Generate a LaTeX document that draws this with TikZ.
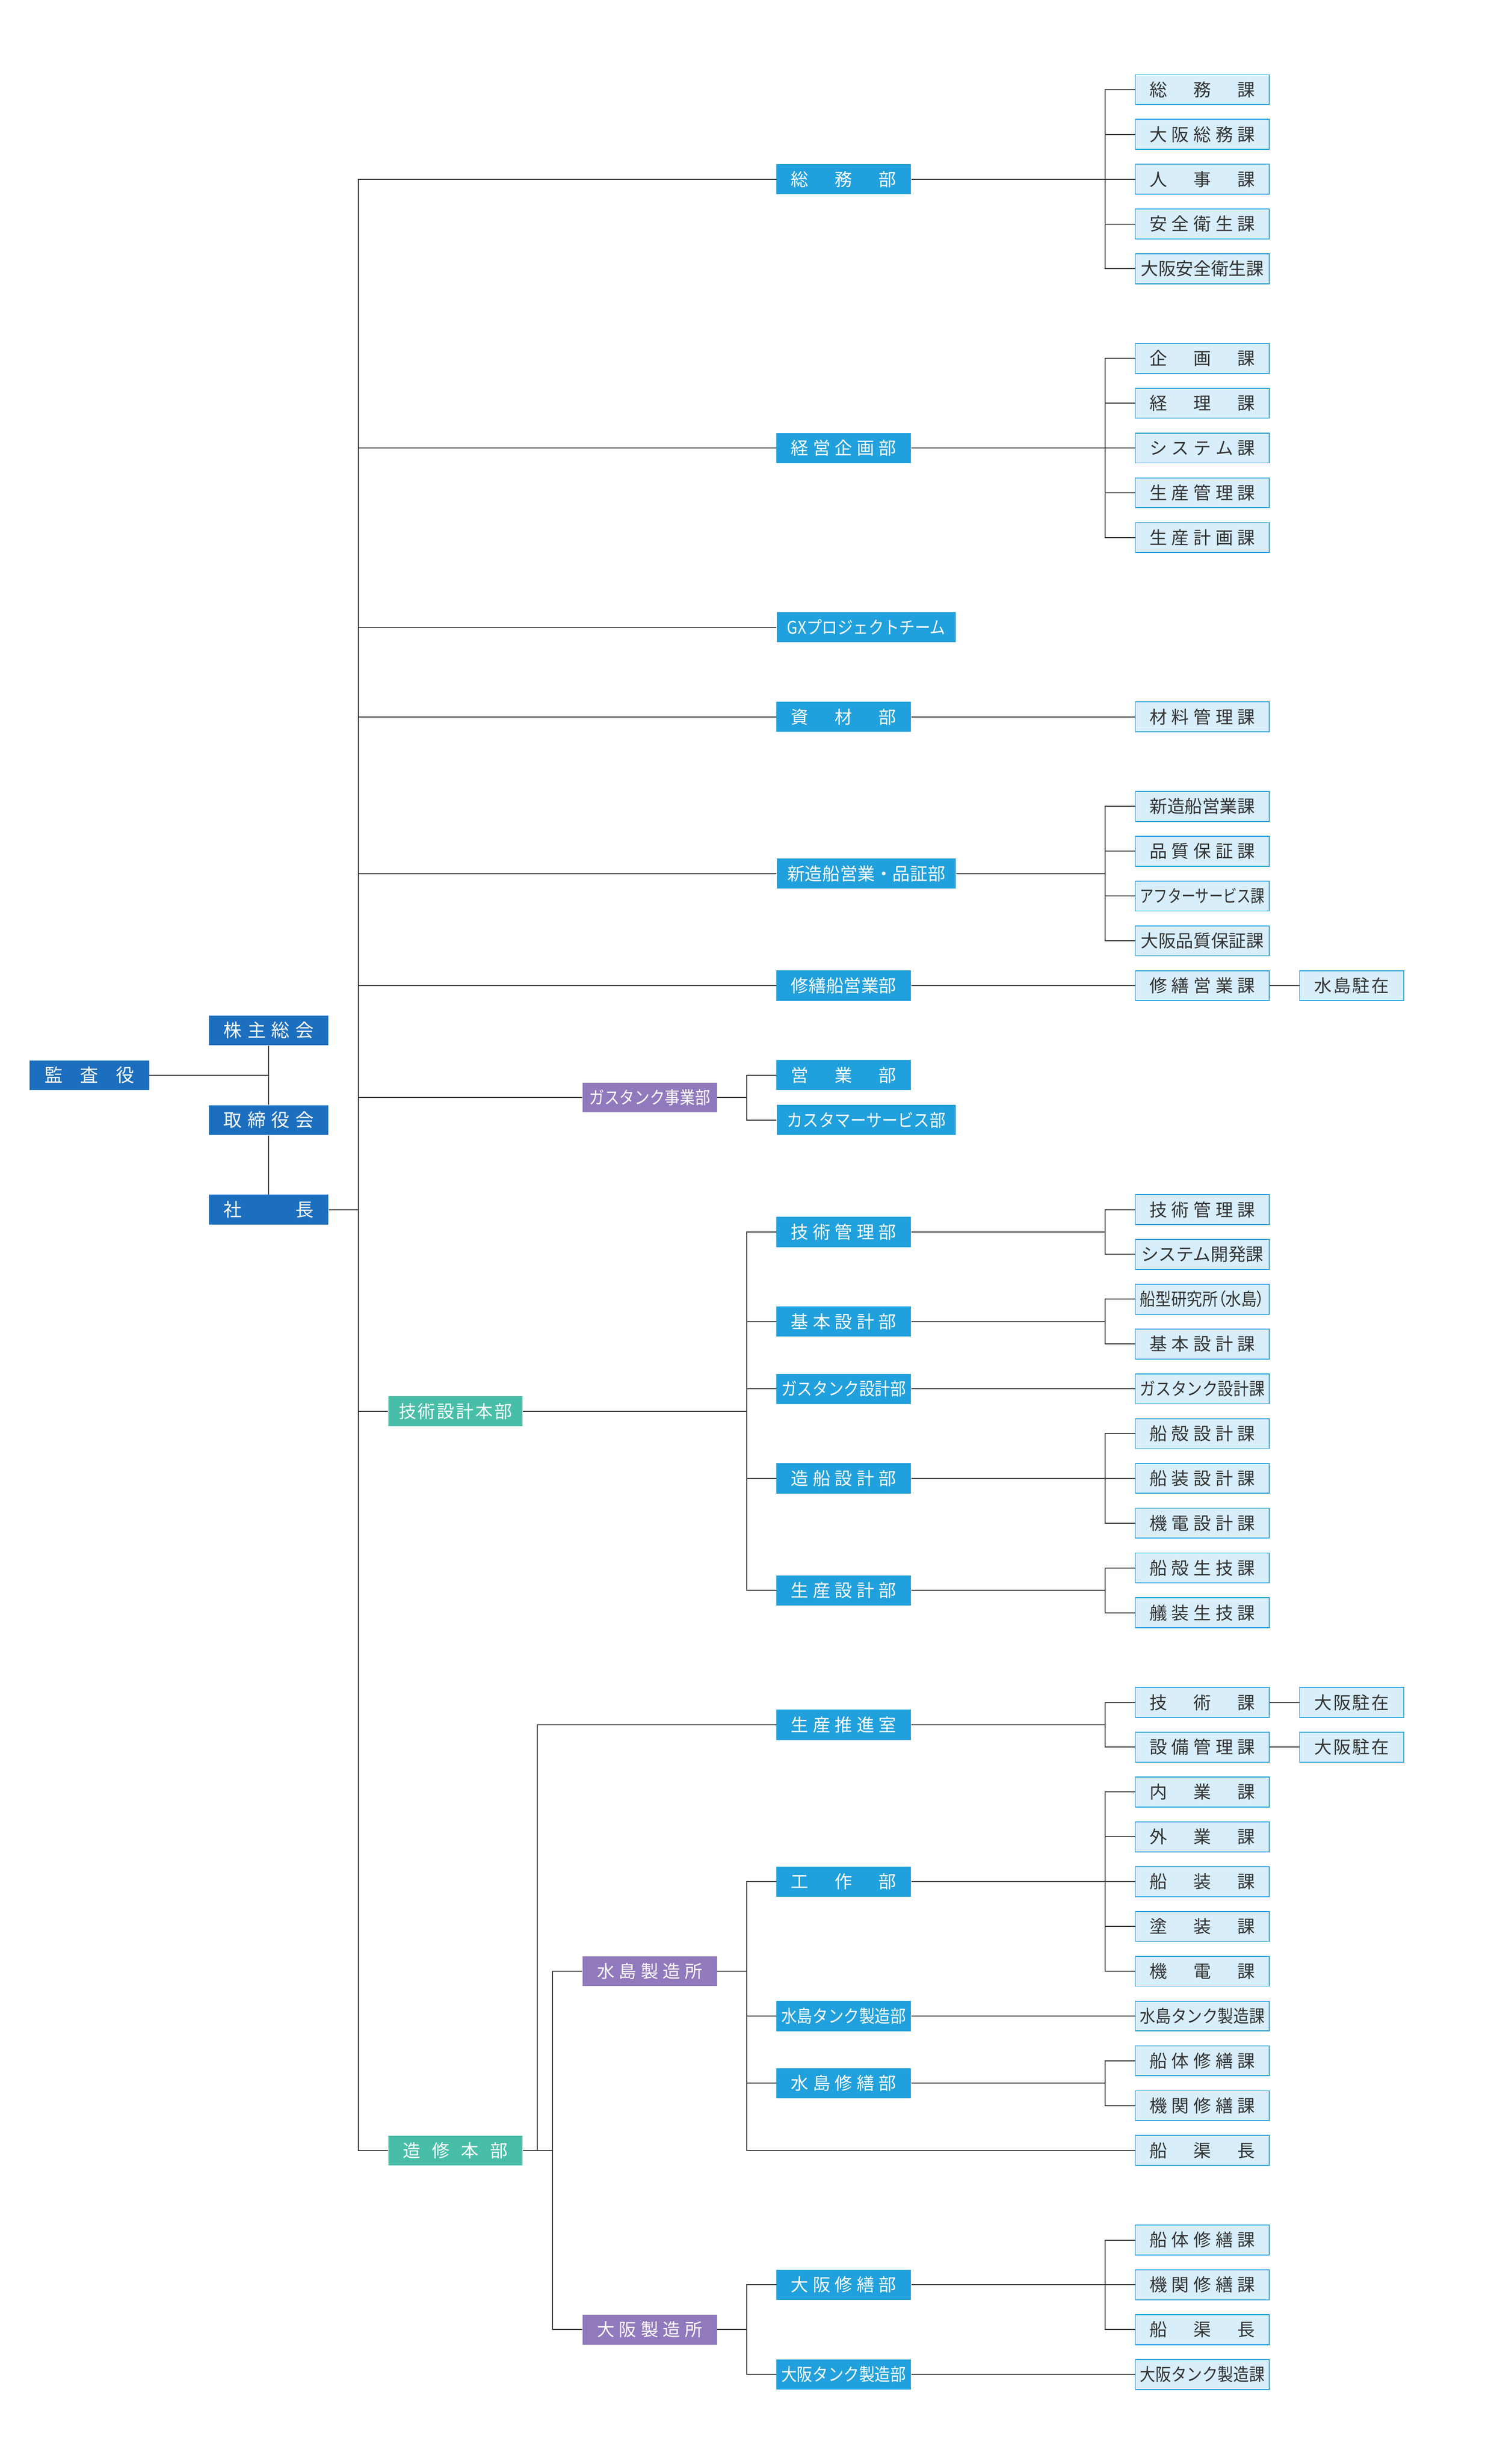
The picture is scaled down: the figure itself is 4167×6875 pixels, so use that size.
\documentclass[tikz,border=0pt]{standalone}
\usepackage{fontspec}
\usepackage{graphicx}
\newfontfamily\jp{Noto Sans CJK JP}
\definecolor{cTop}{HTML}{1C6FBE}
\definecolor{cBu}{HTML}{20A0DC}
\definecolor{cKaF}{HTML}{D8EEFB}
\definecolor{cPur}{HTML}{9179BD}
\definecolor{cGrn}{HTML}{48BEA8}
\definecolor{cLine}{HTML}{383838}
\definecolor{cTx}{HTML}{333333}
\def\SW{58.8pt}\def\MW{69.6pt}
\ExplSyntaxOn
\NewDocumentCommand \spreadto { m m }
  { \makebox[#1][s]{ \tl_map_inline:nn {#2} { ##1 \hfill } \unskip } }
\NewDocumentCommand \lab { m }
  {
    \hbox_set:Nn \l_tmpa_box {#1}
    \dim_compare:nNnTF { \box_wd:N \l_tmpa_box } < { \SW - 1pt }
      { \spreadto{\SW}{#1} }
      {
        \dim_compare:nNnTF { \box_wd:N \l_tmpa_box } > { \MW }
          { \resizebox{\MW}{\height}{#1} }
          { \box_use:N \l_tmpa_box }
      }
  }
\ExplSyntaxOff
\tikzset{
  bxBase/.style={rectangle, inner sep=0pt, text height=8.2pt, text depth=0.8pt,
    font=\jp\fontsize{9.8pt}{11pt}\selectfont},
  bxTop/.style={bxBase, fill=cTop, text=white, minimum width=66.6pt, minimum height=16.6pt,
    font=\jp\fontsize{10.2pt}{11pt}\selectfont,
    execute at begin node={\def\SW{50.2pt}\def\MW{60pt}}},
  bxBu/.style={bxBase, fill=cBu, text=white, minimum width=75pt, minimum height=16.8pt,
    execute at begin node={\def\SW{58.8pt}\def\MW{69.6pt}}},
  bxWide/.style={bxBase, fill=cBu, text=white, minimum width=100pt, minimum height=16.8pt,
    execute at begin node={\def\SW{58.8pt}\def\MW{88.4pt}}},
  bxPur/.style={bxBase, fill=cPur, text=white, minimum width=75pt, minimum height=16.6pt,
    execute at begin node={\def\SW{58.8pt}\def\MW{67.6pt}}},
  bxGrn/.style={bxBase, fill=cGrn, text=white, minimum width=75pt, minimum height=16.6pt,
    execute at begin node={\def\SW{58.6pt}\def\MW{69.6pt}}},
  bxKa/.style={bxBase, fill=cKaF, draw=cBu, line width=0.5pt, text=cTx,
    minimum width=74.7pt, minimum height=16.7pt,
    execute at begin node={\def\SW{58.8pt}\def\MW{69.6pt}}},
  bxChu/.style={bxKa, minimum width=58.1pt,
    execute at begin node={\def\SW{41.6pt}\def\MW{52pt}}},
  conn/.style={draw=cLine, line width=0.55pt}
}
\newcommand\brk[3]{\foreach \c in {#3} {\draw[conn] (#1.east) -- (#1.east -| #2) |- (\c.west);}}
\begin{document}
\begin{tikzpicture}[x=0.2pt,y=-0.2pt]
\useasboundingbox (0,0) rectangle (4167,6875);
% bracket x positions
\coordinate (Tx) at (1000,0);
\coordinate (X1) at (1499,0);
\coordinate (X2) at (1541,0);
\coordinate (Bx) at (2083,0);
\coordinate (Kx) at (3083,0);
% top management
\node[bxTop] (kansa)  at (249.5,3000) {\lab{監査役}};
\node[bxTop] (kabu)   at (749.5,2875) {\lab{株主総会}};
\node[bxTop] (tori)   at (749.5,3125) {\lab{取締役会}};
\node[bxTop] (shacho) at (749.5,3375) {\lab{社長}};
% second level
\node[bxPur] (gastank) at (1812.5,3062.5) {\lab{ガスタンク事業部}};
\node[bxGrn, execute at begin node={\def\SW{63.2pt}}] (gijutsu) at (1270.5,3937.5) {\lab{技術設計本部}};
\node[bxGrn] (zoshu) at (1270.5,6000) {\lab{造修本部}};
\node[bxPur] (mizuf)  at (1812.5,5500) {\lab{水島製造所}};
\node[bxPur] (osakaf) at (1812.5,6500) {\lab{大阪製造所}};
% departments
\node[bxBu]   (somubu)  at (2353.5,500)    {\lab{総務部}};
\node[bxBu]   (keiei)   at (2353.5,1250)   {\lab{経営企画部}};
\node[bxWide] (gx)      at (2416.5,1750)   {\lab{GXプロジェクトチーム}};
\node[bxBu]   (shizai)  at (2353.5,2000)   {\lab{資材部}};
\node[bxWide] (shinzo)  at (2416.5,2437.5) {\lab{新造船営業・品証部}};
\node[bxBu]   (shuzen)  at (2353.5,2750)   {\lab{修繕船営業部}};
\node[bxBu]   (eigyo)   at (2353.5,3000)   {\lab{営業部}};
\node[bxWide] (cs)      at (2416.5,3125)   {\lab{カスタマーサービス部}};
\node[bxBu]   (gkanri)  at (2353.5,3437.5) {\lab{技術管理部}};
\node[bxBu]   (kihon)   at (2353.5,3687.5) {\lab{基本設計部}};
\node[bxBu]   (gasd)    at (2353.5,3875)   {\lab{ガスタンク設計部}};
\node[bxBu]   (zosen)   at (2353.5,4125)   {\lab{造船設計部}};
\node[bxBu]   (seisand) at (2353.5,4437.5) {\lab{生産設計部}};
\node[bxBu]   (suishin) at (2353.5,4812.5) {\lab{生産推進室}};
\node[bxBu]   (kosaku)  at (2353.5,5250)   {\lab{工作部}};
\node[bxBu]   (mtank)   at (2353.5,5625)   {\lab{水島タンク製造部}};
\node[bxBu]   (mshuzen) at (2353.5,5812.5) {\lab{水島修繕部}};
\node[bxBu]   (oshuzen) at (2353.5,6375)   {\lab{大阪修繕部}};
\node[bxBu]   (otank)   at (2353.5,6625)   {\lab{大阪タンク製造部}};
% sections
\node[bxKa] (a0)   at (3354,250)  {\lab{総務課}};
\node[bxKa] (a2)   at (3354,375)  {\lab{大阪総務課}};
\node[bxKa] (a4)   at (3354,500)  {\lab{人事課}};
\node[bxKa] (a6)   at (3354,625)  {\lab{安全衛生課}};
\node[bxKa] (a8)   at (3354,750)  {\lab{大阪安全衛生課}};
\node[bxKa] (a12)  at (3354,1000) {\lab{企画課}};
\node[bxKa] (a14)  at (3354,1125) {\lab{経理課}};
\node[bxKa] (a16)  at (3354,1250) {\lab{システム課}};
\node[bxKa] (a18)  at (3354,1375) {\lab{生産管理課}};
\node[bxKa] (a20)  at (3354,1500) {\lab{生産計画課}};
\node[bxKa] (a28)  at (3354,2000) {\lab{材料管理課}};
\node[bxKa] (a32)  at (3354,2250) {\lab{新造船営業課}};
\node[bxKa] (a34)  at (3354,2375) {\lab{品質保証課}};
\node[bxKa] (a36)  at (3354,2500) {\lab{アフターサービス課}};
\node[bxKa] (a38)  at (3354,2625) {\lab{大阪品質保証課}};
\node[bxKa] (a40)  at (3354,2750) {\lab{修繕営業課}};
\node[bxChu] (c40) at (3770.5,2750) {\lab{水島駐在}};
\node[bxKa] (a50)  at (3354,3375) {\lab{技術管理課}};
\node[bxKa] (a52)  at (3354,3500) {\lab{システム開発課}};
\node[bxKa] (a54)  at (3354,3625) {\lab{\addfontfeature{RawFeature=+palt}船型研究所（水島）}};
\node[bxKa] (a56)  at (3354,3750) {\lab{基本設計課}};
\node[bxKa] (a58)  at (3354,3875) {\lab{ガスタンク設計課}};
\node[bxKa] (a60)  at (3354,4000) {\lab{船殻設計課}};
\node[bxKa] (a62)  at (3354,4125) {\lab{船装設計課}};
\node[bxKa] (a64)  at (3354,4250) {\lab{機電設計課}};
\node[bxKa] (a66)  at (3354,4375) {\lab{船殻生技課}};
\node[bxKa] (a68)  at (3354,4500) {\lab{艤装生技課}};
\node[bxKa] (a72)  at (3354,4750) {\lab{技術課}};
\node[bxChu] (c72) at (3770.5,4750) {\lab{大阪駐在}};
\node[bxKa] (a74)  at (3354,4875) {\lab{設備管理課}};
\node[bxChu] (c74) at (3770.5,4875) {\lab{大阪駐在}};
\node[bxKa] (a76)  at (3354,5000) {\lab{内業課}};
\node[bxKa] (a78)  at (3354,5125) {\lab{外業課}};
\node[bxKa] (a80)  at (3354,5250) {\lab{船装課}};
\node[bxKa] (a82)  at (3354,5375) {\lab{塗装課}};
\node[bxKa] (a84)  at (3354,5500) {\lab{機電課}};
\node[bxKa] (a86)  at (3354,5625) {\lab{水島タンク製造課}};
\node[bxKa] (a88)  at (3354,5750) {\lab{船体修繕課}};
\node[bxKa] (a90)  at (3354,5875) {\lab{機関修繕課}};
\node[bxKa] (a92)  at (3354,6000) {\lab{船渠長}};
\node[bxKa] (a96)  at (3354,6250) {\lab{船体修繕課}};
\node[bxKa] (a98)  at (3354,6375) {\lab{機関修繕課}};
\node[bxKa] (a100) at (3354,6500) {\lab{船渠長}};
\node[bxKa] (a102) at (3354,6625) {\lab{大阪タンク製造課}};
% connectors: top management
\draw[conn] (kabu.south) -- (tori.north);
\draw[conn] (tori.south) -- (shacho.north);
\draw[conn] (kansa.east) -- (kansa.east -| kabu.south);
\brk{shacho}{Tx}{somubu,keiei,gx,shizai,shinzo,shuzen,gastank,gijutsu,zoshu}
% second level
\brk{gastank}{Bx}{eigyo,cs}
\brk{gijutsu}{Bx}{gkanri,kihon,gasd,zosen,seisand}
\brk{zoshu}{X1}{suishin}
\brk{zoshu}{X2}{mizuf,osakaf}
\brk{mizuf}{Bx}{kosaku,mtank,mshuzen,a92}
\brk{osakaf}{Bx}{oshuzen,otank}
% departments to sections
\brk{somubu}{Kx}{a0,a2,a4,a6,a8}
\brk{keiei}{Kx}{a12,a14,a16,a18,a20}
\brk{shizai}{Kx}{a28}
\brk{shinzo}{Kx}{a32,a34,a36,a38}
\brk{shuzen}{Kx}{a40}
\brk{gkanri}{Kx}{a50,a52}
\brk{kihon}{Kx}{a54,a56}
\brk{gasd}{Kx}{a58}
\brk{zosen}{Kx}{a60,a62,a64}
\brk{seisand}{Kx}{a66,a68}
\brk{suishin}{Kx}{a72,a74}
\brk{kosaku}{Kx}{a76,a78,a80,a82,a84}
\brk{mtank}{Kx}{a86}
\brk{mshuzen}{Kx}{a88,a90}
\brk{oshuzen}{Kx}{a96,a98,a100}
\brk{otank}{Kx}{a102}
% sections to resident offices
\draw[conn] (a40.east) -- (c40.west);
\draw[conn] (a72.east) -- (c72.west);
\draw[conn] (a74.east) -- (c74.west);
\end{tikzpicture}
\end{document}
